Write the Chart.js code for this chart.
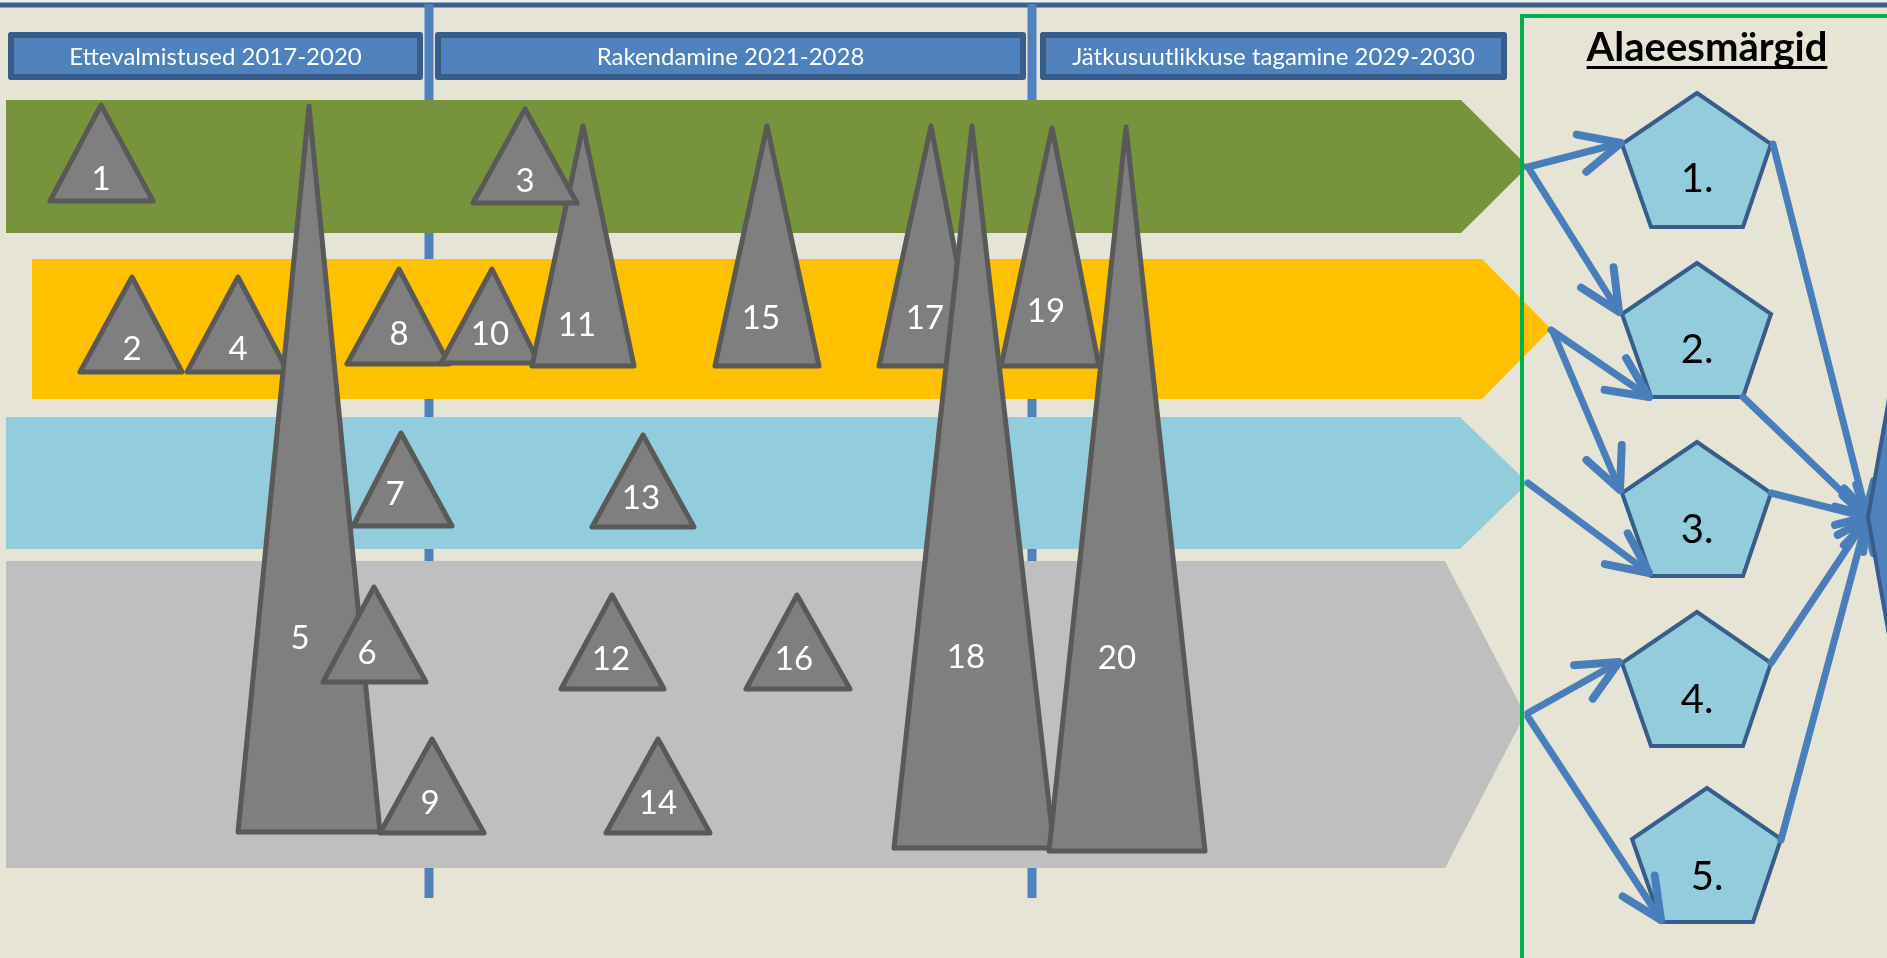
<!DOCTYPE html>
<html>
<head>
<meta charset="utf-8">
<title>Alaeesmärgid</title>
<script src="https://cdn.jsdelivr.net/npm/chart.js@4.4.0/dist/chart.umd.min.js"></script>
<style>
  html, body { margin: 0; padding: 0; background: #e6e4d4; overflow: hidden; }
  #wrap { width: 1887px; height: 958px; position: relative; }
</style>
</head>
<body>
<div id="wrap"><canvas id="diagram"></canvas></div>
<script>
// --- data (diagram units = pixels of the 1887x958 original) ---
const phaseLabels = ['Ettevalmistused 2017-2020', 'Rakendamine 2021-2028', 'Jätkusuutlikkuse tagamine 2029-2030'];
const phaseLeft = [11, 438, 1043];
const phaseRight = [420, 1023, 1504];
const phaseTop = 35;
const phaseBottom = 77;
const dividerX = [429, 1032];

const bandLeft = [6, 32, 6, 6];
const bandShoulder = [1461, 1482, 1460, 1445];
const bandTip = [1528, 1551, 1528, 1525];
const bandTop = [100, 259, 417, 561];
const bandBottom = [233, 399, 549, 868];

const triangleIds = ['1','2','3','4','5','6','7','8','9','10','11','12','13','14','15','16','17','18','19','20'];
const triangleApex = [[101,105],[132,277],[525,109],[238,277],[309,106],[374,587],[401,433],[399,269],[432,739],[492,269],
                      [583,126],[612,595],[643,435],[658,739],[767,126],[797,595],[931,126],[972,126],[1052,128],[1126,127]];
const triangleBaseLeft = [50, 80, 473, 187, 238, 323, 353, 347, 380, 441, 532, 561, 592, 606, 715, 746, 879, 894, 1001, 1049];
const triangleBaseRight = [153, 182, 577, 288, 380, 426, 452, 449, 484, 539, 634, 664, 694, 710, 819, 850, 977, 1054, 1099, 1205];
const triangleBaseY = [201, 372, 203, 372, 832, 682, 526, 364, 833, 363, 366, 689, 527, 833, 366, 689, 366, 848, 366, 851];
const triangleLabelX = [101, 132, 525, 238, 300, 367, 395, 399, 430, 490, 577, 611, 641, 658, 761, 794, 925, 966, 1046, 1117];
const triangleLabelY = [178, 348, 180, 348, 637, 652, 493, 333, 802, 333, 324, 658, 497, 802, 317, 658, 317, 656, 310, 657];
const triangleOrder = ['1','2','4','5','6','7','8','9','10','11','3','12','13','14','15','16','17','18','19','20'];

const goalTitle = 'Alaeesmärgid';
const goalLabels = ['1.', '2.', '3.', '4.', '5.'];
const goalX = [1697, 1697, 1697, 1697, 1707];
const goalTop = [93, 263, 442, 612, 788];
const goalLabelY = [177, 348, 528, 698, 875];

// arrows: [fromX, fromY, toX, toY]
const inArrows = [[1528,167,1621,143],[1528,167,1619,312],[1551,330,1649,397],[1553,332,1620,490],
                  [1528,483,1649,573],[1528,713,1619,662],[1528,717,1661,920]];
const outArrows = [[1773,144,1866,512],[1743,397,1866,515],[1771,493,1866,517],[1771,663,1866,520],[1781,840,1866,522]];
const mainGoalEdge = [[1868,517],[1906,303],[1960,303],[1960,731],[1906,731]];

// pentagon outline relative to its top vertex
const pentagonShape = [[0,0],[74,51],[46,134],[-46,134],[-75,51]];

// --- build datasets ---
const datasets = [];
function addLine(points, opts) {
  datasets.push(Object.assign({
    data: points.map(p => ({x: p[0], y: p[1]})),
    showLine: true,
    pointRadius: 0,
    pointHoverRadius: 0,
    pointHitRadius: 0,
    tension: 0,
    borderWidth: 0,
    borderColor: 'rgba(0,0,0,0)',
    backgroundColor: 'rgba(0,0,0,0)',
    fill: false,
    borderJoinStyle: 'miter',
    borderCapStyle: 'butt'
  }, opts));
}
function addPolygon(points, fillColor, lineColor, lineWidth, join) {
  // start half way along the last edge so no corner gets a line cap
  const a = points[points.length - 1], b = points[0];
  const mid = [(a[0] + b[0]) / 2, (a[1] + b[1]) / 2];
  addLine([mid].concat(points, [mid]), {
    fill: fillColor ? 'shape' : false,
    backgroundColor: fillColor || 'rgba(0,0,0,0)',
    borderColor: lineColor || 'rgba(0,0,0,0)',
    borderWidth: lineWidth || 0,
    borderJoinStyle: join || 'miter'
  });
}
function arrowHead(x1, y1, x2, y2, len, ang) {
  const a = Math.atan2(y2 - y1, x2 - x1);
  return [[x2 - len * Math.cos(a - ang), y2 - len * Math.sin(a - ang)], [x2, y2],
          [x2 - len * Math.cos(a + ang), y2 - len * Math.sin(a + ang)]];
}

// top rule
addLine([[0,1.5],[1887,1.5]], {borderColor: '#f0f0ee', borderWidth: 3});
addLine([[0,5],[1887,5]], {borderColor: '#3b5e8c', borderWidth: 5});

// period dividers
dividerX.forEach(x => addLine([[x,4],[x,898]], {borderColor: '#4f81bd', borderWidth: 9}));

// period headers
phaseLabels.forEach((t, i) => {
  addPolygon([[phaseLeft[i],phaseTop],[phaseRight[i],phaseTop],[phaseRight[i],phaseBottom],[phaseLeft[i],phaseBottom]],
    '#4f81bd', '#385d8a', 6, 'round');
});

// bands
const bandColors = ['#77933c', '#ffc000', '#93cddd', '#bfbfbf'];
bandTop.forEach((top, i) => {
  const mid = (top + bandBottom[i]) / 2;
  addPolygon([[bandLeft[i],top],[bandShoulder[i],top],[bandTip[i],mid],[bandShoulder[i],bandBottom[i]],[bandLeft[i],bandBottom[i]]],
    bandColors[i]);
});

// goals frame
addPolygon([[1522,16],[1900,16],[1900,980],[1522,980]], null, '#00b050', 4);

// activities
triangleOrder.forEach(id => {
  const i = triangleIds.indexOf(id);
  addPolygon([[triangleBaseRight[i],triangleBaseY[i]], triangleApex[i], [triangleBaseLeft[i],triangleBaseY[i]]],
    '#7f7f7f', '#595959', 5, 'round');
});

// sub-goal pentagons
goalX.forEach((cx, i) => {
  addPolygon(pentagonShape.map(p => [cx + p[0], goalTop[i] + p[1]]), '#93cddd', '#385d8a', 4);
});

// arrows
const arrowColor = '#4a7ebb';
inArrows.forEach(a => {
  addLine([[a[0],a[1]],[a[2],a[3]]], {borderColor: arrowColor, borderWidth: 7, borderCapStyle: 'round'});
  addLine(arrowHead(a[0], a[1], a[2], a[3], 45, 0.44), {borderColor: arrowColor, borderWidth: 8, borderCapStyle: 'round', borderJoinStyle: 'round'});
});
outArrows.forEach(a => {
  addLine([[a[0],a[1]],[a[2],a[3]]], {borderColor: arrowColor, borderWidth: 7, borderCapStyle: 'round'});
  addLine(arrowHead(a[0], a[1], a[2], a[3], 32, 0.5), {borderColor: arrowColor, borderWidth: 8, borderCapStyle: 'round', borderJoinStyle: 'round'});
});

// main goal (only its left corner is in view)
addPolygon(mainGoalEdge, '#4f81bd', '#385d8a', 4);

// later datasets on top
datasets.forEach((d, i) => { d.order = -i; });

// --- text ---
const FONT = 'Lato, "Open Sans", sans-serif';
function centeredText(ctx, text, px, py) {
  const m = ctx.measureText(text);
  const asc = m.actualBoundingBoxAscent, desc = m.actualBoundingBoxDescent;
  ctx.fillText(text, px, py + (asc - desc) / 2);
}
const textPlugin = {
  id: 'diagramText',
  afterDatasetsDraw(chart) {
    const {ctx, scales: {x, y}} = chart;
    ctx.save();
    ctx.textAlign = 'center';
    ctx.textBaseline = 'alphabetic';

    ctx.fillStyle = '#ffffff';
    ctx.font = '24px ' + FONT;
    phaseLabels.forEach((t, i) => {
      const m = ctx.measureText('E');
      ctx.fillText(t, x.getPixelForValue((phaseLeft[i] + phaseRight[i]) / 2),
        y.getPixelForValue((phaseTop + phaseBottom) / 2) + m.actualBoundingBoxAscent / 2);
    });

    ctx.font = '33px ' + FONT;
    triangleIds.forEach((t, i) => {
      centeredText(ctx, t, x.getPixelForValue(triangleLabelX[i]), y.getPixelForValue(triangleLabelY[i]));
    });

    ctx.fillStyle = '#000000';
    ctx.font = '40px ' + FONT;
    goalLabels.forEach((t, i) => {
      centeredText(ctx, t, x.getPixelForValue(goalX[i]), y.getPixelForValue(goalLabelY[i]));
    });

    ctx.font = 'bold 40px ' + FONT;
    const tx = x.getPixelForValue(1707), ty = y.getPixelForValue(61);
    ctx.fillText(goalTitle, tx, ty);
    const w = ctx.measureText(goalTitle).width;
    ctx.fillRect(tx - w / 2, ty + 5, w, 3);
    ctx.restore();
  }
};

new Chart(document.getElementById('diagram'), {
  type: 'scatter',
  data: { datasets },
  options: {
    responsive: true,
    maintainAspectRatio: false,
    animation: false,
    events: [],
    layout: { padding: 0 },
    plugins: { legend: { display: false }, tooltip: { enabled: false }, title: { display: false } },
    scales: {
      x: { type: 'linear', min: 0, max: 1887, display: false },
      y: { type: 'linear', min: 0, max: 958, reverse: true, display: false }
    }
  },
  plugins: [textPlugin]
});
</script>
</body>
</html>
